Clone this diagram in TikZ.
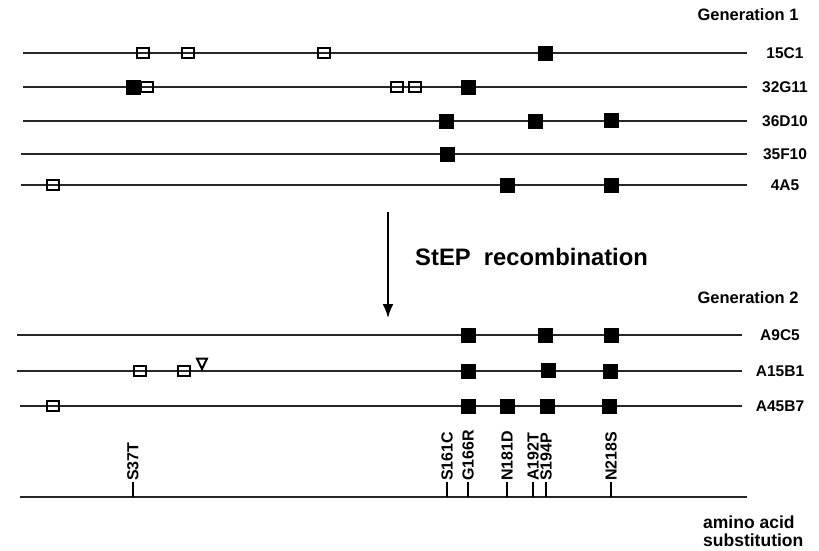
\documentclass[tikz,border=0pt]{standalone}
\usepackage{fontspec}
\setmainfont{Liberation Sans}
\usetikzlibrary{arrows.meta}
\begin{document}
\begin{tikzpicture}[x=1pt,y=-1pt,
  seqline/.style={line width=2.6pt, black!85},
  openbox/.style={draw, line width=2.4pt, minimum width=12.5pt, minimum height=10.5pt, inner sep=0pt},
  fullbox/.style={fill=black, minimum width=15pt, minimum height=15pt, inner sep=0pt},
  lab/.style={font=\bfseries\fontsize{15.5}{16}\selectfont},
  gen/.style={font=\bfseries\fontsize{16.5}{18}\selectfont, anchor=east},
  mut/.style={font=\bfseries\fontsize{16}{18}\selectfont, rotate=90, anchor=west, inner sep=1pt},
  tick/.style={line width=2pt}]
\useasboundingbox (0,0) rectangle (819,550);

% Generation 1
\node[gen] (g1) at (802,15) {Generation 1};

\coordinate (r1a) at (23,53); \coordinate (r1b) at (747,53);
\draw[seqline] (r1a) -- (r1b);
\node[openbox] (r1o1) at (143,53) {};
\node[openbox] (r1o2) at (188,53) {};
\node[openbox] (r1o3) at (324,53) {};
\node[fullbox] (r1f1) at (545,53) {};
\node[lab] (l1) at (785,53) {15C1};

\coordinate (r2a) at (23,87); \coordinate (r2b) at (747,87);
\draw[seqline] (r2a) -- (r2b);
\node[fullbox] (r2f1) at (133,87) {};
\node[openbox] (r2o1) at (147,87) {};
\node[openbox] (r2o2) at (397,87) {};
\node[openbox] (r2o3) at (415,87) {};
\node[fullbox] (r2f2) at (468,87) {};
\node[lab] (l2) at (785,87) {32G11};

\coordinate (r3a) at (23,121); \coordinate (r3b) at (747,121);
\draw[seqline] (r3a) -- (r3b);
\node[fullbox] (r3f1) at (446,121) {};
\node[fullbox] (r3f2) at (535,121) {};
\node[fullbox] (r3f3) at (611,120) {};
\node[lab] (l3) at (785,121) {36D10};

\coordinate (r4a) at (21,154); \coordinate (r4b) at (747,154);
\draw[seqline] (r4a) -- (r4b);
\node[fullbox] (r4f1) at (447,154) {};
\node[lab] (l4) at (785,154) {35F10};

\coordinate (r5a) at (21,185); \coordinate (r5b) at (747,185);
\draw[seqline] (r5a) -- (r5b);
\node[openbox] (r5o1) at (53,185) {};
\node[fullbox] (r5f1) at (507,185) {};
\node[fullbox] (r5f2) at (611,185) {};
\node[lab] (l5) at (785,185) {4A5};

% Arrow
\coordinate (arA) at (388,212); \coordinate (arB) at (388,318);
\draw[line width=2pt, -{Latex[length=14pt,width=11pt]}] (arA) -- (arB);
\node[font=\bfseries\fontsize{23.8}{26}\selectfont, anchor=west, inner sep=0pt] (step) at (415,257) {StEP\ \ recombination};

% Generation 2
\node[gen] (g2) at (802,298) {Generation 2};

\coordinate (s1a) at (17,335); \coordinate (s1b) at (742,335);
\draw[seqline] (s1a) -- (s1b);
\node[fullbox] (s1f1) at (468,335) {};
\node[fullbox] (s1f2) at (545,335) {};
\node[fullbox] (s1f3) at (611,335) {};
\node[lab] (m1) at (780,335) {A9C5};

\coordinate (s2a) at (17,371); \coordinate (s2b) at (742,371);
\draw[seqline] (s2a) -- (s2b);
\node[openbox] (s2o1) at (140,371) {};
\node[openbox] (s2o2) at (184,371) {};
\draw[line width=2pt, line join=miter] (197,358.5) -- (207,358.5) -- (202,369) -- cycle;
\node[fullbox] (s2f1) at (468,371) {};
\node[fullbox] (s2f2) at (548,370) {};
\node[fullbox] (s2f3) at (610,371) {};
\node[lab] (m2) at (780,371) {A15B1};

\coordinate (s3a) at (20,406); \coordinate (s3b) at (742,406);
\draw[seqline] (s3a) -- (s3b);
\node[openbox] (s3o1) at (53,406) {};
\node[fullbox] (s3f1) at (468,406) {};
\node[fullbox] (s3f2) at (507,406) {};
\node[fullbox] (s3f3) at (547,406) {};
\node[fullbox] (s3f4) at (609,406) {};
\node[lab] (m3) at (780,406) {A45B7};

% Substitution axis
\coordinate (axA) at (20,497); \coordinate (axB) at (747,497);
\draw[seqline] (axA) -- (axB);
\foreach \x/\t/\n in {133/S37T/a, 447/S161C/b, 468/G166R/c, 507/N181D/d, 533/A192T/e, 546/S194P/f, 611/N218S/g} {
  \coordinate (t\n) at (\x,497);
  \coordinate (u\n) at (\x,482);
  \draw[tick] (t\n) -- (u\n);
  \node[mut] (k\n) at (u\n) {\t};
}
\node[font=\bfseries\fontsize{17.5}{18}\selectfont, anchor=west, align=left, inner sep=0pt] (aa) at (703,531) {amino acid\\substitution};
\end{tikzpicture}
\end{document}
